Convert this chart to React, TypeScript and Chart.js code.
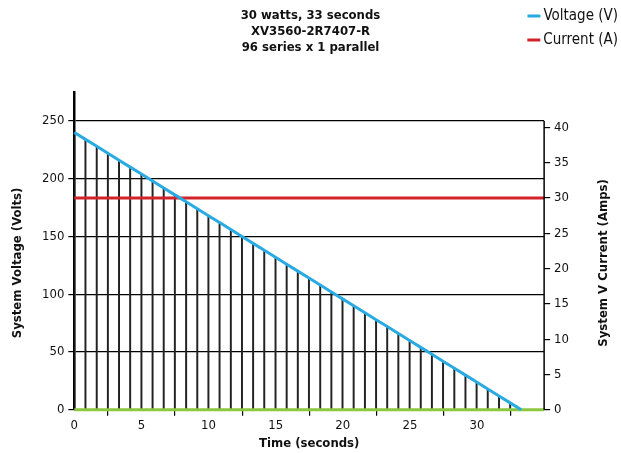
import React, { useEffect, useRef } from 'react';
import { Chart, registerables } from 'chart.js';

Chart.register(...registerables);

// ---- data ----
const timeSec = [
  0, 0.83, 1.67, 2.5, 3.33, 4.16, 5.0, 5.83, 6.66, 7.49, 8.33, 9.16, 9.99, 10.82,
  11.66, 12.49, 13.32, 14.15, 14.99, 15.82, 16.65, 17.48, 18.32, 19.15, 19.98,
  20.81, 21.65, 22.48, 23.31, 24.14, 24.98, 25.81, 26.64, 27.47, 28.31, 29.14,
  29.97, 30.8, 31.64, 32.47, 33.3,
];
const voltageV = [
  240, 234, 228, 222, 216, 210, 204, 198, 192, 186, 180, 174, 168, 162, 156, 150,
  144, 138, 132, 126, 120, 114, 108, 102, 96, 90, 84, 78, 72, 66, 60, 54, 48, 42,
  36, 30, 24, 18, 12, 6, 0,
];
const currentTime = [0, 35];
const currentA = [30, 30];
const baselineTime = [0, 35];
const baselineV = [0, 0];

const timeTicks = [0, 5, 10, 15, 20, 25, 30];
const voltTicks = [0, 50, 100, 150, 200, 250];
const ampTicks = [0, 5, 10, 15, 20, 25, 30, 35, 40];

const titleLines = ['30 watts, 33 seconds', 'XV3560-2R7407-R', '96 series x 1 parallel'];
const legendLabels = ['Voltage (V)', 'Current (A)'];
const xTitle = 'Time (seconds)';
const yTitle = 'System Voltage (Volts)';
const y1Title = 'System V Current (Amps)';

const BLUE = '#29abe2';
const RED = '#d2232a';
const GREEN = '#8dc63f';
const FONT = '"Liberation Sans Narrow", "DejaVu Sans Condensed", "Roboto Condensed", Arial, sans-serif';

const annotationsPlugin = {
  id: 'annotations',
  afterDatasetsDraw(chart: any) {
    const { ctx, chartArea, scales } = chart;
    const top = scales.y.getPixelForValue(250);
    ctx.save();
    ctx.strokeStyle = '#000';
    ctx.lineWidth = 1.5;
    ctx.beginPath();
    ctx.moveTo(chartArea.right, top);
    ctx.lineTo(chartArea.right, chartArea.bottom);
    ctx.stroke();
    ctx.restore();
  },
  afterDraw(chart: any) {
    const { ctx, chartArea } = chart;
    const midY = (chartArea.top + chartArea.bottom) / 2 + 12;
    ctx.save();
    ctx.fillStyle = '#111';
    ctx.textAlign = 'center';
    ctx.textBaseline = 'middle';
    // main title
    ctx.font = `bold 13px ${FONT}`;
    titleLines.forEach((line, i) => {
      ctx.fillText(line, chart.width / 2, 16 + i * 16);
    });
    // left axis title
    ctx.save();
    ctx.translate(18, midY);
    ctx.rotate(-Math.PI / 2);
    ctx.fillText(yTitle, 0, 0);
    ctx.restore();
    // right axis title
    ctx.save();
    ctx.translate(chart.width - 17, midY);
    ctx.rotate(-Math.PI / 2);
    ctx.fillText(y1Title, 0, 0);
    ctx.restore();
    // legend
    const colors = [BLUE, RED];
    const ys = [16, 40];
    ctx.font = `15px ${FONT}`;
    ctx.textAlign = 'left';
    legendLabels.forEach((label, i) => {
      const w = ctx.measureText(label).width;
      const xText = chart.width - 3 - w;
      ctx.fillStyle = '#111';
      ctx.fillText(label, xText, ys[i]);
      ctx.strokeStyle = colors[i];
      ctx.lineWidth = 3;
      ctx.beginPath();
      ctx.moveTo(xText - 16, ys[i]);
      ctx.lineTo(xText - 3, ys[i]);
      ctx.stroke();
    });
    ctx.restore();
  },
};

export default function App() {
  const ref = useRef<HTMLCanvasElement | null>(null);

  useEffect(() => {
    if (!ref.current) return;
    const tickFont = { family: FONT, size: 13 };
    const titleFont = { family: FONT, size: 13, weight: 'bold' as const };
    const chart = new Chart(ref.current, {
      type: 'bar',
      data: {
        datasets: [
          {
            type: 'line',
            label: legendLabels[0],
            data: timeSec.map((t, i) => ({ x: t, y: voltageV[i] })),
            borderColor: BLUE,
            borderWidth: 3,
            pointRadius: 0,
            yAxisID: 'y',
            order: 1,
            clip: false,
          } as any,
          {
            type: 'line',
            label: legendLabels[1],
            data: currentTime.map((t, i) => ({ x: t, y: currentA[i] })),
            borderColor: RED,
            borderWidth: 3,
            pointRadius: 0,
            yAxisID: 'y1',
            order: 2,
            clip: false,
          } as any,
          {
            type: 'line',
            label: 'baseline',
            data: baselineTime.map((t, i) => ({ x: t, y: baselineV[i] })),
            borderColor: GREEN,
            borderWidth: 3,
            pointRadius: 0,
            yAxisID: 'y',
            order: 3,
            clip: false,
          } as any,
          {
            type: 'bar',
            label: 'drops',
            data: timeSec.map((t, i) => ({ x: t, y: voltageV[i] })),
            backgroundColor: '#222',
            barThickness: 1.3,
            grouped: false,
            yAxisID: 'y',
            order: 10,
          } as any,
        ],
      },
      options: {
        animation: false,
        responsive: false,
        layout: { padding: { left: 38, right: 48, top: 92, bottom: 2 } },
        plugins: {
          legend: { display: false },
          tooltip: { enabled: false },
          title: { display: false },
        },
        scales: {
          x: {
            type: 'linear',
            min: 0,
            max: 35,
            offset: false,
            afterBuildTicks: (s: any) => {
              s.ticks = timeTicks.map((v) => ({ value: v }));
            },
            grid: { drawOnChartArea: false, drawTicks: true, tickLength: 6, color: '#000', lineWidth: 1.2 },
            border: { display: false },
            ticks: { font: tickFont, color: '#111', padding: 2, maxRotation: 0 },
            title: { display: true, text: xTitle, font: titleFont, color: '#111', padding: 0 },
          },
          y: {
            type: 'linear',
            position: 'left',
            min: 0,
            max: 275,
            afterBuildTicks: (s: any) => {
              s.ticks = voltTicks.map((v) => ({ value: v }));
            },
            grid: { color: '#000', lineWidth: 1.2, tickLength: 6 },
            border: { display: true, color: '#000', width: 2.5 },
            ticks: { font: tickFont, color: '#111', padding: 4 },
          },
          y1: {
            type: 'linear',
            position: 'right',
            min: 0,
            max: 45,
            afterBuildTicks: (s: any) => {
              s.ticks = ampTicks.map((v) => ({ value: v }));
            },
            grid: { drawOnChartArea: false, drawTicks: true, color: '#000', lineWidth: 1.2, tickLength: 6 },
            border: { display: false },
            ticks: { font: tickFont, color: '#111', padding: 4 },
          },
        },
      } as any,
      plugins: [annotationsPlugin],
    });
    return () => chart.destroy();
  }, []);

  return (
    <div style={{ position: 'absolute', left: 0, top: 0, width: 621, height: 453, background: '#fff' }}>
      <canvas ref={ref} width={621} height={453} />
    </div>
  );
}
